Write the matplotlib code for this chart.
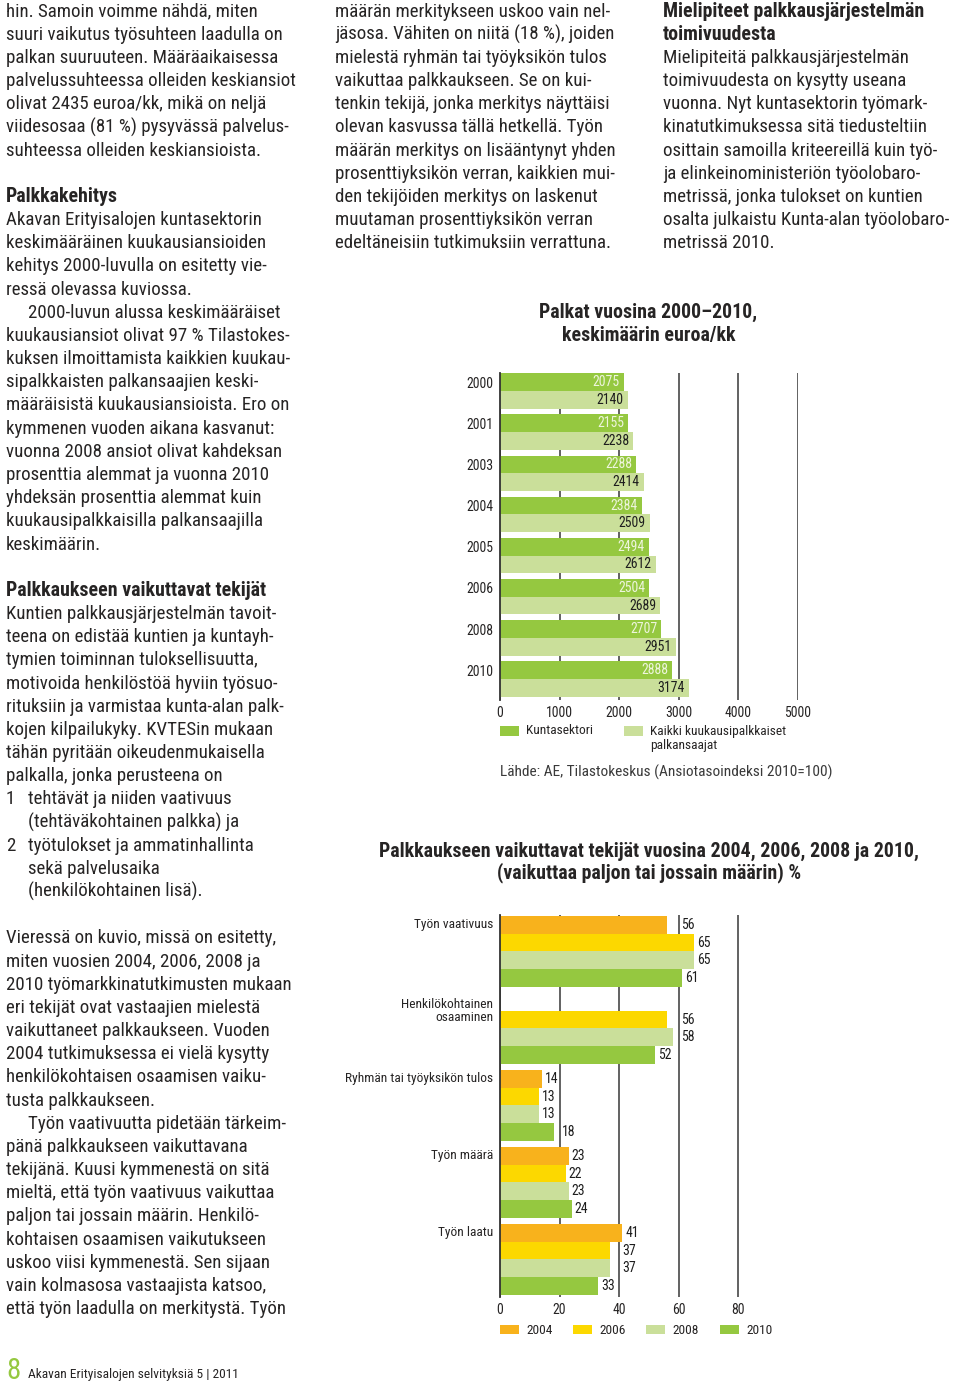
import numpy as np
import matplotlib
matplotlib.use('Agg')
import matplotlib.pyplot as plt
from matplotlib import font_manager
from matplotlib.patches import Rectangle

# ---------------- data ----------------
years1 = ['2000', '2001', '2003', '2004', '2005', '2006', '2008', '2010']
kunta = [2075, 2155, 2288, 2384, 2494, 2504, 2707, 2888]
kaikki = [2140, 2238, 2414, 2509, 2612, 2689, 2951, 3174]
legend1 = ['Kuntasektori', 'Kaikki kuukausipalkkaiset\npalkansaajat']
ticks1 = [0, 1000, 2000, 3000, 4000, 5000]

factors = ['Työn vaativuus', 'Henkilökohtainen\nosaaminen',
           'Ryhmän tai työyksikön tulos', 'Työn määrä', 'Työn laatu']
years2 = ['2004', '2006', '2008', '2010']
v2004 = [56, None, 14, 23, 41]
v2006 = [65, 56, 13, 22, 37]
v2008 = [65, 58, 13, 23, 37]
v2010 = [61, 52, 18, 24, 33]
ticks2 = [0, 20, 40, 60, 80]

# ---------------- style ----------------
DG = '#95c840'
LG = '#cadf9a'
OR = '#f8b21c'
YE = '#fcd800'
TXT = '#262424'

W, H = 960, 1383
fig = plt.figure(figsize=(W / 100, H / 100), dpi=100)

names = {f.name for f in font_manager.fontManager.ttflist}
FONT = next((n for n in ['Roboto Condensed', 'Liberation Sans Narrow',
                         'Open Sans Condensed', 'Lato'] if n in names), 'DejaVu Sans')
plt.rcParams['font.family'] = [FONT, 'DejaVu Sans']

renderer = fig.canvas.get_renderer()


def width_px(s, size, weight='normal'):
    t = fig.text(0, 0, s, fontsize=size, weight=weight)
    w = t.get_window_extent(renderer).width
    t.remove()
    return w


# scale factor so that a reference line gets the reference width
REF = 12.5
k = (REF * 300 / width_px('palvelussuhteessa olleiden keskiansiot', REF)) / 14.0
body = 13.6 * k
bold = 14.4 * k
small = 9.9 * k      # tick / value labels
lab = 9.7 * k        # category labels, legend


def T(x, y, s, **kw):
    kw.setdefault('color', TXT)
    return fig.text(x / W, 1 - y / H, s, **kw)


# ---------------- body text ----------------
left_lines = [
    ("hin. Samoin voimme nähdä, miten", 'n'),
    ("suuri vaikutus työsuhteen laadulla on", 'n'),
    ("palkan suuruuteen. Määräaikaisessa", 'n'),
    ("palvelussuhteessa olleiden keskiansiot", 'n'),
    ("olivat 2435 euroa/kk, mikä on neljä", 'n'),
    ("viidesosaa (81 %) pysyvässä palvelus-", 'n'),
    ("suhteessa olleiden keskiansioista.", 'n'),
    ("", 'n'),
    ("Palkkakehitys", 'b'),
    ("Akavan Erityisalojen kuntasektorin", 'n'),
    ("keskimääräinen kuukausiansioiden", 'n'),
    ("kehitys 2000-luvulla on esitetty vie-", 'n'),
    ("ressä olevassa kuviossa.", 'n'),
    ("2000-luvun alussa keskimääräiset", 'i'),
    ("kuukausiansiot olivat 97 % Tilastokes-", 'n'),
    ("kuksen ilmoittamista kaikkien kuukau-", 'n'),
    ("sipalkkaisten palkansaajien keski-", 'n'),
    ("määräisistä kuukausiansioista. Ero on", 'n'),
    ("kymmenen vuoden aikana kasvanut:", 'n'),
    ("vuonna 2008 ansiot olivat kahdeksan", 'n'),
    ("prosenttia alemmat ja vuonna 2010", 'n'),
    ("yhdeksän prosenttia alemmat kuin", 'n'),
    ("kuukausipalkkaisilla palkansaajilla", 'n'),
    ("keskimäärin.", 'n'),
    ("", 'n'),
    ("Palkkaukseen vaikuttavat tekijät", 'b'),
    ("Kuntien palkkausjärjestelmän tavoit-", 'n'),
    ("teena on edistää kuntien ja kuntayh-", 'n'),
    ("tymien toiminnan tuloksellisuutta,", 'n'),
    ("motivoida henkilöstöä hyviin työsuo-", 'n'),
    ("rituksiin ja varmistaa kunta-alan palk-", 'n'),
    ("kojen kilpailukyky. KVTESin mukaan", 'n'),
    ("tähän pyritään oikeudenmukaisella", 'n'),
    ("palkalla, jonka perusteena on", 'n'),
    ("1|tehtävät ja niiden vaativuus", 'num'),
    ("(tehtäväkohtainen palkka) ja", 'i'),
    ("2|työtulokset ja ammatinhallinta", 'num'),
    ("sekä palvelusaika", 'i'),
    ("(henkilökohtainen lisä).", 'i'),
    ("", 'n'),
    ("Vieressä on kuvio, missä on esitetty,", 'n'),
    ("miten vuosien 2004, 2006, 2008 ja", 'n'),
    ("2010 työmarkkinatutkimusten mukaan", 'n'),
    ("eri tekijät ovat vastaajien mielestä", 'n'),
    ("vaikuttaneet palkkaukseen. Vuoden", 'n'),
    ("2004 tutkimuksessa ei vielä kysytty", 'n'),
    ("henkilökohtaisen osaamisen vaiku-", 'n'),
    ("tusta palkkaukseen.", 'n'),
    ("Työn vaativuutta pidetään tärkeim-", 'i'),
    ("pänä palkkaukseen vaikuttavana", 'n'),
    ("tekijänä. Kuusi kymmenestä on sitä", 'n'),
    ("mieltä, että työn vaativuus vaikuttaa", 'n'),
    ("paljon tai jossain määrin. Henkilö-", 'n'),
    ("kohtaisen osaamisen vaikutukseen", 'n'),
    ("uskoo viisi kymmenestä. Sen sijaan", 'n'),
    ("vain kolmasosa vastaajista katsoo,", 'n'),
    ("että työn laadulla on merkitystä. Työn", 'n'),
]

mid_lines = [
    ("määrän merkitykseen uskoo vain nel-", 'n'),
    ("jäsosa. Vähiten on niitä (18 %), joiden", 'n'),
    ("mielestä ryhmän tai työyksikön tulos", 'n'),
    ("vaikuttaa palkkaukseen. Se on kui-", 'n'),
    ("tenkin tekijä, jonka merkitys näyttäisi", 'n'),
    ("olevan kasvussa tällä hetkellä. Työn", 'n'),
    ("määrän merkitys on lisääntynyt yhden", 'n'),
    ("prosenttiyksikön verran, kaikkien mui-", 'n'),
    ("den tekijöiden merkitys on laskenut", 'n'),
    ("muutaman prosenttiyksikön verran", 'n'),
    ("edeltäneisiin tutkimuksiin verrattuna.", 'n'),
]

right_lines = [
    ("Mielipiteet palkkausjärjestelmän", 'b'),
    ("toimivuudesta", 'b'),
    ("Mielipiteitä palkkausjärjestelmän", 'n'),
    ("toimivuudesta on kysytty useana", 'n'),
    ("vuonna. Nyt kuntasektorin työmark-", 'n'),
    ("kinatutkimuksessa sitä tiedusteltiin", 'n'),
    ("osittain samoilla kriteereillä kuin työ-", 'n'),
    ("ja elinkeinoministeriön työolobaro-", 'n'),
    ("metrissä, jonka tulokset on kuntien", 'n'),
    ("osalta julkaistu Kunta-alan työolobaro-", 'n'),
    ("metrissä 2010.", 'n'),
]

STEP = 23.17
BASE_Y = 16.6


def column(lines, x0):
    for i, (s, st) in enumerate(lines):
        if not s:
            continue
        y = BASE_Y + i * STEP
        if st == 'b':
            T(x0, y, s, fontsize=bold, weight='bold', va='baseline')
        elif st == 'i':
            T(x0 + 22, y, s, fontsize=body, va='baseline')
        elif st == 'num':
            n, rest = s.split('|')
            T(x0, y, n, fontsize=body, va='baseline')
            T(x0 + 22, y, rest, fontsize=body, va='baseline')
        else:
            T(x0, y, s, fontsize=body, va='baseline')


column(left_lines, 6)
column(mid_lines, 335)
column(right_lines, 663)

# footer
T(6, 1379, '8', fontsize=21 * k, color=DG, va='baseline')
T(28, 1378, 'Akavan Erityisalojen selvityksiä 5 | 2011', fontsize=9.7 * k, va='baseline')

# ---------------- chart 1 ----------------
T(648.5, 312, 'Palkat vuosina 2000–2010,', fontsize=bold, weight='bold', ha='center', va='center')
T(649, 335, 'keskimäärin euroa/kk', fontsize=bold, weight='bold', ha='center', va='center')

ax1 = fig.add_axes([500 / W, 1 - 700 / H, 298 / W, 327 / H])
h = 0.429
pos = np.arange(len(years1))
ax1.barh(pos - h / 2, kunta, height=h, color=DG, zorder=2, linewidth=0)
ax1.barh(pos + h / 2, kaikki, height=h, color=LG, zorder=2, linewidth=0)
ax1.set_xlim(0, 5000)
ax1.set_ylim(len(years1) - 1 + h + 0.08, -h - 0.005)
ax1.set_xticks(ticks1)
ax1.set_xticklabels([str(t) for t in ticks1])
ax1.set_yticks(pos - h / 2)
ax1.set_yticklabels(years1)
ax1.grid(axis='x', color='#555555', linewidth=1.3, zorder=0)
ax1.set_axisbelow(True)
for sp in ['top', 'right', 'bottom']:
    ax1.spines[sp].set_visible(False)
ax1.spines['left'].set_color('#333333')
ax1.spines['left'].set_linewidth(1.3)
ax1.tick_params(length=0, labelsize=small, colors=TXT)
ax1.tick_params(axis='x', pad=4.5)
ax1.tick_params(axis='y', pad=5)
for i in range(len(years1)):
    ax1.annotate(str(kunta[i]), (kunta[i], pos[i] - h / 2), xytext=(-3, 0),
                 textcoords='offset points', ha='right', va='center',
                 fontsize=small, color='#eef5dd', zorder=3)
    ax1.annotate(str(kaikki[i]), (kaikki[i], pos[i] + h / 2), xytext=(-3, 0),
                 textcoords='offset points', ha='right', va='center',
                 fontsize=small, color='#1e1e1e', zorder=3)

# legend 1
for (x, col, txt) in [(500, DG, legend1[0]), (624, LG, legend1[1])]:
    fig.patches.append(Rectangle((x / W, 1 - 736 / H), 19 / W, 10 / H,
                                 transform=fig.transFigure, color=col, linewidth=0))
    for li, line in enumerate(txt.split('\n')):
        T(x + 26, 731 + 15 * li, line, fontsize=lab, va='center')

T(500, 772, 'Lähde: AE, Tilastokeskus (Ansiotasoindeksi 2010=100)', fontsize=11.1 * k,
  va='center', color='#3a3a3a')

# ---------------- chart 2 ----------------
T(648.5, 851, 'Palkkaukseen vaikuttavat tekijät vuosina 2004, 2006, 2008 ja 2010,',
  fontsize=bold, weight='bold', ha='center', va='center')
T(649, 873, '(vaikuttaa paljon tai jossain määrin) %',
  fontsize=bold, weight='bold', ha='center', va='center')

ax2 = fig.add_axes([500 / W, 1 - 1297 / H, 298 / W, 382 / H])
bh = 0.23
series = [v2004, v2006, v2008, v2010]
colors2 = [OR, YE, LG, DG]
gpos = np.arange(len(factors))
for j, (vals, col) in enumerate(zip(series, colors2)):
    for i, v in enumerate(vals):
        if v is None:
            continue
        y = gpos[i] + (j - 1.5) * bh
        ax2.barh(y, v, height=bh, color=col, zorder=2, linewidth=0)
        lx = v + 1.0
        for g in ticks2[1:]:
            if v < g < v + 5:
                lx = g + 0.9
        ax2.text(lx, y, str(v), ha='left', va='center', fontsize=small,
                 color='#1e1e1e', zorder=3)
ax2.set_xlim(0, 100)
ax2.set_ylim(len(factors) - 1 + 2 * bh + 0.027, -2 * bh - 0.013)
ax2.set_xticks(ticks2)
ax2.set_xticklabels([str(t) for t in ticks2])
ax2.set_yticks([])
ax2.grid(axis='x', color='#555555', linewidth=1.3, zorder=0)
ax2.set_axisbelow(True)
for sp in ['top', 'right', 'bottom']:
    ax2.spines[sp].set_visible(False)
ax2.spines['left'].set_color('#333333')
ax2.spines['left'].set_linewidth(1.3)
ax2.tick_params(length=0, labelsize=small, colors=TXT)
ax2.tick_params(axis='x', pad=4.5)
for i, name in enumerate(factors):
    if '\n' in name:
        y = gpos[i] - bh
    else:
        y = gpos[i] - 1.5 * bh
    ax2.annotate(name, (0, y), xytext=(-5, 0), textcoords='offset points',
                 ha='right', va='center', fontsize=lab, color=TXT,
                 linespacing=1.0, annotation_clip=False)

# legend 2
for (x, col, txt) in zip([500, 573, 646, 720], colors2, years2):
    fig.patches.append(Rectangle((x / W, 1 - 1334 / H), 19 / W, 9.5 / H,
                                 transform=fig.transFigure, color=col, linewidth=0))
    T(x + 26, 1330, txt, fontsize=lab, va='center')

fig.savefig('out.png', dpi=100)
